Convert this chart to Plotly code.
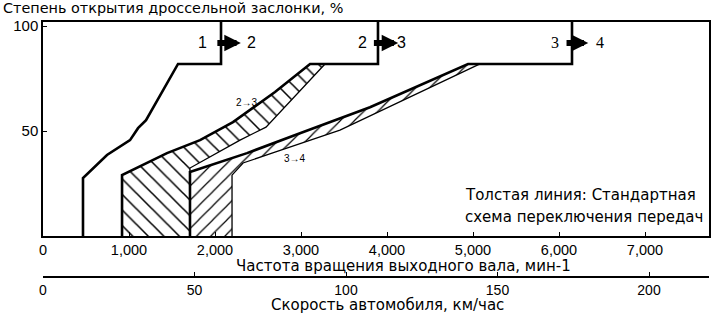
import plotly.graph_objects as go

# ---------------- data (rpm of output shaft, throttle %) ----------------
shift12_rpm = [2070, 2070, 1570, 1198, 1105, 1012, 744, 465, 465]
shift12_pct = [102, 82, 82, 55.2, 51.4, 45.7, 38.6, 27.6, 0]

shift23_rpm = [3895, 3895, 3105, 2698, 2209, 1826, 1442, 919, 919]
shift23_pct = [102, 82, 82, 68.6, 54.3, 45.7, 39.5, 29.0, 0]

alt23_rpm = [3279, 2593, 2291, 1709, 1709]
alt23_pct = [82, 51.9, 45.7, 32.4, 0]

shift34_rpm = [6151, 6151, 4942, 3802, 2988, 2372, 1709, 1709]
shift34_pct = [102, 82, 82, 61.4, 49, 39.5, 30.5, 0]

alt34_rpm = [5081, 3453, 2663, 2326, 2198, 2198]
alt34_pct = [82, 50.5, 39.5, 34.8, 29, 0]

rpm_ticks = [0, 1000, 2000, 3000, 4000, 5000, 6000, 7000]
pct_ticks = [50, 100]
speed_ticks = [0, 50, 100, 150, 200]

gear_labels = [("1", "2"), ("2", "3"), ("3", "4")]
arrow_tail_rpm = [2010, 3830, 6070]
arrow_head_rpm = [2300, 4130, 6340]
arrow_pct = 92
label_left_rpm = [1850, 3720, 5950]
label_right_rpm = [2420, 4170, 6480]

RPM_MAX = 7744
PCT_MAX = 102
SPEED_MAX = 219.8

# ---------------- figure ----------------
fig = go.Figure()

# hatched hysteresis regions
reg23_x = shift23_rpm[2:] + alt23_rpm[::-1]
reg23_y = shift23_pct[2:] + alt23_pct[::-1]
fig.add_trace(go.Scatter(
    x=reg23_x, y=reg23_y, fill="toself", mode="lines",
    line=dict(width=0, color="rgba(0,0,0,0)"),
    fillcolor="white",
    fillpattern=dict(shape="\\", fgcolor="black", bgcolor="white",
                     size=11, solidity=0.14, fillmode="replace"),
    hoverinfo="skip"))

reg34_x = shift34_rpm[2:] + alt34_rpm[::-1]
reg34_y = shift34_pct[2:] + alt34_pct[::-1]
fig.add_trace(go.Scatter(
    x=reg34_x, y=reg34_y, fill="toself", mode="lines",
    line=dict(width=0, color="rgba(0,0,0,0)"),
    fillcolor="white",
    fillpattern=dict(shape="/", fgcolor="black", bgcolor="white",
                     size=10, solidity=0.12, fillmode="replace"),
    hoverinfo="skip"))

# alternative (thin) shift lines
for xs, ys in [(alt23_rpm, alt23_pct), (alt34_rpm, alt34_pct)]:
    fig.add_trace(go.Scatter(x=xs, y=ys, mode="lines",
                             line=dict(color="black", width=1.3),
                             hoverinfo="skip"))

# standard (thick) shift lines
for xs, ys in [(shift12_rpm, shift12_pct), (shift23_rpm, shift23_pct),
               (shift34_rpm, shift34_pct)]:
    fig.add_trace(go.Scatter(x=xs, y=ys, mode="lines",
                             line=dict(color="black", width=2.6),
                             hoverinfo="skip"))

# invisible trace on the speed axis
fig.add_trace(go.Scatter(x=[0, SPEED_MAX], y=[0, 0], xaxis="x2", yaxis="y",
                         mode="markers", marker=dict(opacity=0),
                         hoverinfo="skip"))

# pixel helpers for text placement (paper coordinates)
PL, PR, PT, PB = 43, 709, 22, 277
def px(xp):
    return (xp - PL) / (PR - PL)
def py(yp):
    return (PB - yp) / (PB - PT)

ann = []
TFAM = "DejaVu Sans, sans-serif"
NFAM = "Liberation Sans, Arial, sans-serif"
font = dict(family=TFAM, size=15, color="black")

# gear change arrows and labels
for i, (a, b) in enumerate(gear_labels):
    fam = "Liberation Serif, serif" if i == 2 else NFAM
    ann.append(dict(x=arrow_head_rpm[i], y=arrow_pct, ax=arrow_tail_rpm[i],
                    ay=arrow_pct, xref="x", yref="y", axref="x", ayref="y",
                    text="", showarrow=True, arrowhead=2, arrowsize=0.55,
                    arrowwidth=6, arrowcolor="black", standoff=0))
    ann.append(dict(x=label_left_rpm[i], y=arrow_pct, xref="x", yref="y",
                    text=a, showarrow=False,
                    font=dict(family=fam, size=16, color="black")))
    ann.append(dict(x=label_right_rpm[i], y=arrow_pct, xref="x", yref="y",
                    text=b, showarrow=False,
                    font=dict(family=fam, size=16, color="black")))

# small region labels
ann.append(dict(x=2370, y=63.5, xref="x", yref="y", text="2→3",
                showarrow=False, font=dict(family=NFAM, size=10)))
ann.append(dict(x=2930, y=37, xref="x", yref="y", text="3→4",
                showarrow=False, font=dict(family=NFAM, size=10)))

# titles
ann.append(dict(x=px(1), y=py(8), xref="paper", yref="paper",
                xanchor="left", yanchor="middle", showarrow=False,
                text="Степень открытия дроссельной заслонки, %",
                font=dict(family=TFAM, size=14.4, color="black")))
ann.append(dict(x=px(403), y=py(266), xref="paper", yref="paper",
                xanchor="center", yanchor="middle", showarrow=False,
                text="Частота вращения выходного вала, мин-1", font=font))
ann.append(dict(x=px(387), y=py(304.5), xref="paper", yref="paper",
                xanchor="center", yanchor="middle", showarrow=False,
                text="Скорость автомобиля, км/час", font=font))
ann.append(dict(x=px(463), y=py(195), xref="paper", yref="paper",
                xanchor="left", yanchor="middle", showarrow=False,
                text="Толстая линия: Стандартная", font=font))
ann.append(dict(x=px(463), y=py(217), xref="paper", yref="paper",
                xanchor="left", yanchor="middle", showarrow=False,
                text="схема переключения передач", font=font))

ydom0 = (PB - 236) / (PB - PT)

fig.update_layout(
    width=725, height=313,
    margin=dict(l=PL, r=725 - PR, t=PT, b=313 - PB, pad=0),
    paper_bgcolor="white", plot_bgcolor="white",
    showlegend=False,
    font=dict(family=NFAM, size=15, color="black"),
    annotations=ann,
    xaxis=dict(range=[0, RPM_MAX], tickvals=rpm_ticks, tickformat=",d",
               showline=True, linecolor="black", linewidth=2, mirror=True,
               ticks="inside", ticklen=4, tickcolor="black",
               showgrid=False, zeroline=False, anchor="y",
               tickfont=dict(size=14.5), ticklabelstandoff=0),
    yaxis=dict(range=[0, PCT_MAX], tickvals=pct_ticks, domain=[ydom0, 1],
               showline=True, linecolor="black", linewidth=1.5, mirror=True,
               ticks="inside", ticklen=4, tickcolor="black",
               showgrid=False, zeroline=False, tickfont=dict(size=15)),
    xaxis2=dict(range=[0, SPEED_MAX], tickvals=speed_ticks,
                overlaying="x", anchor="free", position=0, side="bottom",
                showline=True, linecolor="black", linewidth=1.5,
                ticks="inside", ticklen=4, tickcolor="black",
                showgrid=False, zeroline=False, tickfont=dict(size=14),
                ticklabelstandoff=0),
)

fig.write_html("out.html")
